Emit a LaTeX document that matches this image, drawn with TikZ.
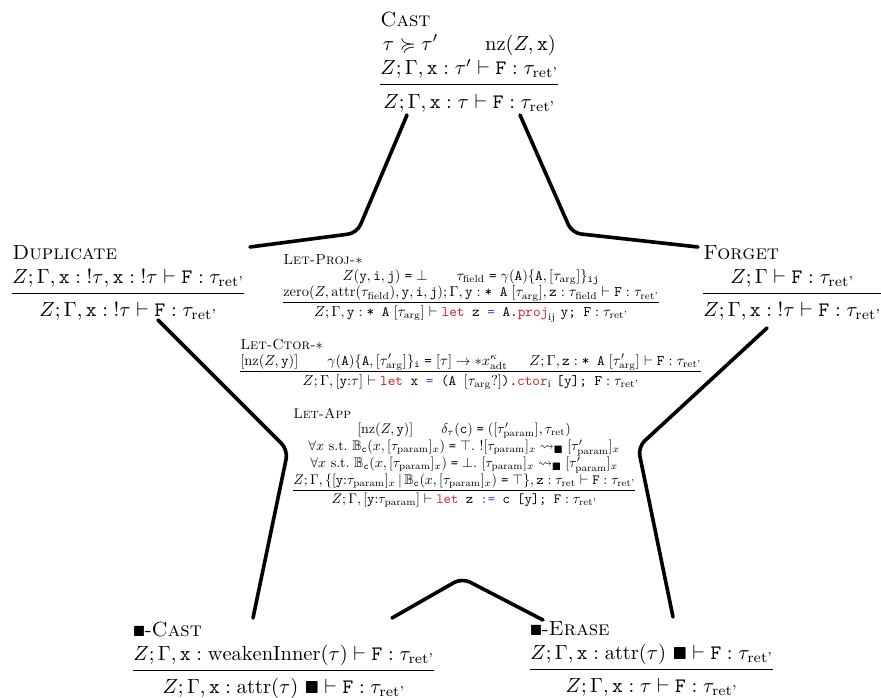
\documentclass[tikz,border=0pt]{standalone}
\usepackage{amsmath,amssymb}
\usepackage{fontspec}
\usepackage{graphicx}
\definecolor{kwred}{RGB}{210,35,45}
\definecolor{opblue}{RGB}{45,75,210}
\newcommand{\kw}[1]{\textcolor{kwred}{#1}}
\newcommand{\op}[1]{\textcolor{opblue}{#1}}
\newcommand{\tret}{\tau_{\text{ret'}}}
\newcommand{\targ}{\tau_{\text{arg}}}
\newcommand{\tpar}{\tau_{\text{param}}}
\newcommand{\Tt}[1]{\mathtt{#1}}
\newcommand{\teq}{\mathrel{\texttt{=}}}
\newcommand{\tc}{{:}}
\newcommand{\bsq}{\scalebox{0.72}{$\blacksquare$}}
\newcommand{\msq}{\mathord{\scalebox{0.85}{$\blacksquare$}}}
\newcommand{\infr}[3]{\begin{tabular}{@{}l@{}}#1\\[-0.5pt]$\begin{array}{@{}c@{}}#2\\[1pt]\hline\rule{0pt}{2.6ex}#3\end{array}$\end{tabular}}
\newcommand{\infri}[4][0.96]{\renewcommand{\arraystretch}{#1}\begin{tabular}{@{}l@{}}#2\\[-1pt]$\begin{array}{@{}c@{}}#3\\[0pt]\hline\rule{0pt}{2.2ex}#4\end{array}$\end{tabular}}
\tikzset{
  outer/.style={inner sep=0pt, anchor=north west, scale=2.05},
  inner/.style={inner sep=0pt, anchor=north west, scale=1.45},
  outline/.style={line width=3.6pt, rounded corners=9pt, line cap=round}
}
\begin{document}
\begin{tikzpicture}[x=1pt,y=-1pt]
\useasboundingbox (0,0) rectangle (881,698);
% outer rules
\node[outer] (cast) at (380,9) {\infr{\textsc{Cast}}{\tau\succcurlyeq\tau'\qquad\;\mathrm{nz}(Z,\Tt{x})\\ Z;\Gamma,\Tt{x}:\tau'\vdash\Tt{F}:\tret}{Z;\Gamma,\Tt{x}:\tau\vdash\Tt{F}:\tret}};
\node[outer] (dup) at (12,242) {\infr{\textsc{Duplicate}}{Z;\Gamma,\Tt{x}:{!\tau},\Tt{x}:{!\tau}\vdash\Tt{F}:\tret}{Z;\Gamma,\Tt{x}:{!\tau}\vdash\Tt{F}:\tret}};
\node[outer] (forget) at (703,242) {\infr{\textsc{Forget}}{Z;\Gamma\vdash\Tt{F}:\tret}{Z;\Gamma,\Tt{x}:{!\tau}\vdash\Tt{F}:\tret}};
\node[outer] (bcast) at (133,619) {\infr{\bsq-\textsc{Cast}}{Z;\Gamma,\Tt{x}:\mathrm{weakenInner}(\tau)\vdash\Tt{F}:\tret}{Z;\Gamma,\Tt{x}:\mathrm{attr}(\tau)\ \msq\vdash\Tt{F}:\tret}};
\node[outer] (berase) at (530,618) {\infr{\bsq-\textsc{Erase}}{Z;\Gamma,\Tt{x}:\mathrm{attr}(\tau)\ \msq\vdash\Tt{F}:\tret}{Z;\Gamma,\Tt{x}:\tau\vdash\Tt{F}:\tret}};
% inner rules
\node[inner] (proj) at (283,253) {\infri{\textsc{Let-Proj-}$*$}{Z(\Tt{y},\Tt{i},\Tt{j})\teq\bot\qquad\tau_{\text{field}}\teq\gamma(\Tt{A})\{\Tt{A},[\targ]\}_{\Tt{ij}}\\ \mathrm{zero}(Z,\mathrm{attr}(\tau_{\text{field}}),\Tt{y},\Tt{i},\Tt{j});\Gamma,\Tt{y}:\texttt{* A}\;[\targ],\Tt{z}:\tau_{\text{field}}\vdash\Tt{F}:\tret}{Z;\Gamma,\Tt{y}:\texttt{* A}\;[\targ]\vdash\texttt{\kw{let} z \op{=} A.\kw{proj}}_{\mathrm{ij}}\ \texttt{y; F}:\tret}};
\node[inner] (ctor) at (240,338) {\infri{\textsc{Let-Ctor-}$*$}{[\mathrm{nz}(Z,\Tt{y})]\qquad\gamma(\Tt{A})\{\Tt{A},[\tau'_{\text{arg}}]\}_{\Tt{i}}\teq[\tau]\rightarrow{*}x^{\kappa}_{\text{adt}}\quad\enspace Z;\Gamma,\Tt{z}:\texttt{* A}\;[\tau'_{\text{arg}}]\vdash\Tt{F}:\tret}{Z;\Gamma,[\Tt{y}\tc\tau]\vdash\texttt{\kw{let} x \op{=} (A }[\targ?]\texttt{).\kw{ctor}}_{\mathrm{i}}\ \texttt{[y]; F}:\tret}};
\node[inner, scale=0.965] (app) at (293,406) {\infri[1.0]{\textsc{Let-App}}{[\mathrm{nz}(Z,\Tt{y})]\qquad\delta_{\tau}(\Tt{c})\teq([\tau'_{\text{param}}],\tau_{\text{ret}})\\
\forall x\ \text{s.t.}\ \mathbb{B}_{\Tt{c}}(x,[\tpar]_x)\teq\top.\ {!}[\tpar]_x\leadsto_{\blacksquare}[\tau'_{\text{param}}]_x\\
\forall x\ \text{s.t.}\ \mathbb{B}_{\Tt{c}}(x,[\tpar]_x)\teq\bot.\ [\tpar]_x\leadsto_{\blacksquare}[\tau'_{\text{param}}]_x\\
Z;\Gamma,\{[\Tt{y}\tc\tpar]_x\,|\,\mathbb{B}_{\Tt{c}}(x,[\tpar]_x)\teq\top\},\Tt{z}:\tau_{\text{ret}}\vdash\Tt{F}:\tret}{Z;\Gamma,[\Tt{y}\tc\tpar]\vdash\texttt{\kw{let} z \op{:=} c [y]; F}:\tret}};
% star outline
\coordinate (a1) at (407,115); \coordinate (a2) at (357,233); \coordinate (a3) at (250,247);
\coordinate (b1) at (520,115); \coordinate (b2) at (572,233); \coordinate (b3) at (698,247);
\coordinate (c1) at (158,320); \coordinate (c2) at (288,450); \coordinate (c3) at (253,618);
\coordinate (d1) at (767,328); \coordinate (d2) at (638,447); \coordinate (d3) at (673,617);
\coordinate (e1) at (392,618); \coordinate (e2) at (462,578); \coordinate (e3) at (543,620);
\draw[outline] (a1) -- (a2) -- (a3);
\draw[outline] (b1) -- (b2) -- (b3);
\draw[outline] (c1) -- (c2) -- (c3);
\draw[outline] (d1) -- (d2) -- (d3);
\draw[outline] (e1) -- (e2) -- (e3);
\end{tikzpicture}
\end{document}
